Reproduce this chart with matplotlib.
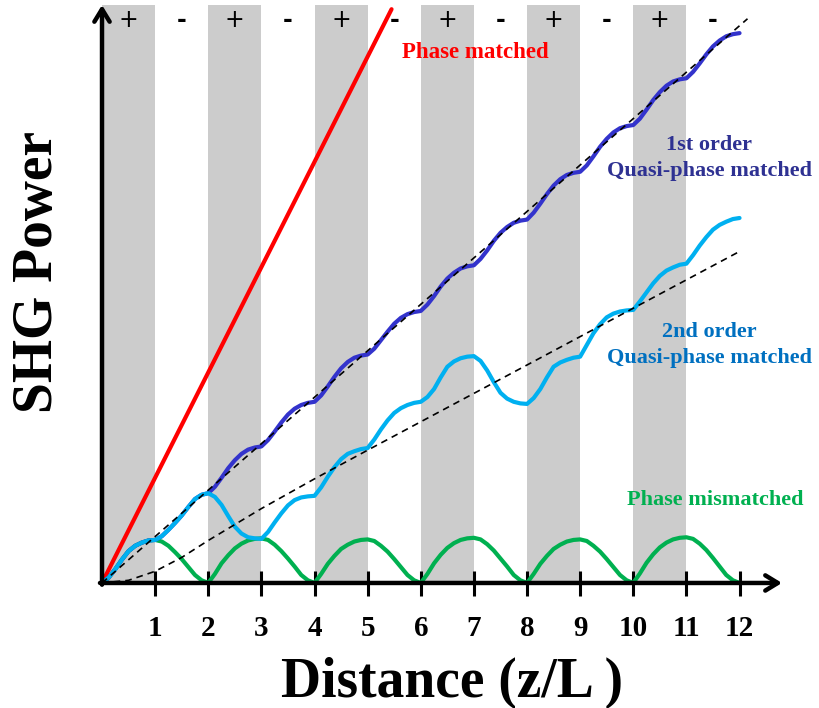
import matplotlib
matplotlib.use("Agg")
from matplotlib import pyplot as plt

# distance in units of coherence length, read every 1/8
x = [i * 0.125 for i in range(97)]

phase_matched_x = [0, 5.45]
phase_matched_y = [0, 10.8]

# 1st order quasi-phase matched
qpm1 = [0, 0.10, 0.26, 0.44, 0.60, 0.70, 0.76, 0.80,
        0.81, 0.88, 1.00, 1.13, 1.27, 1.43, 1.58, 1.66,
        1.69, 1.81, 1.98, 2.16, 2.31, 2.43, 2.51, 2.55,
        2.57, 2.69, 2.85, 3.02, 3.17, 3.28, 3.35, 3.39,
        3.41, 3.53, 3.70, 3.88, 4.04, 4.16, 4.24, 4.28,
        4.30, 4.41, 4.57, 4.73, 4.88, 4.99, 5.06, 5.10,
        5.12, 5.24, 5.40, 5.58, 5.73, 5.84, 5.92, 5.96,
        5.98, 6.10, 6.26, 6.44, 6.59, 6.70, 6.78, 6.82,
        6.84, 6.97, 7.14, 7.32, 7.48, 7.60, 7.68, 7.72,
        7.74, 7.86, 8.03, 8.21, 8.36, 8.48, 8.56, 8.60,
        8.62, 8.74, 8.91, 9.09, 9.24, 9.36, 9.44, 9.48,
        9.50, 9.62, 9.78, 9.95, 10.10, 10.21, 10.29, 10.33,
        10.35]

# 2nd order quasi-phase matched
qpm2 = [0, 0.10, 0.26, 0.44, 0.60, 0.70, 0.76, 0.80,
        0.81, 0.88, 1.00, 1.13, 1.27, 1.43, 1.58, 1.66,
        1.69, 1.62, 1.47, 1.26, 1.06, 0.93, 0.86, 0.84,
        0.83, 0.96, 1.14, 1.31, 1.46, 1.56, 1.61, 1.63,
        1.64, 1.80, 2.00, 2.18, 2.33, 2.43, 2.48, 2.52,
        2.54, 2.70, 2.89, 3.06, 3.20, 3.29, 3.35, 3.39,
        3.41, 3.50, 3.65, 3.87, 4.07, 4.17, 4.23, 4.26,
        4.27, 4.18, 4.00, 3.78, 3.58, 3.47, 3.41, 3.38,
        3.37, 3.48, 3.65, 3.87, 4.07, 4.15, 4.20, 4.24,
        4.26, 4.48, 4.70, 4.87, 5.00, 5.07, 5.11, 5.13,
        5.14, 5.30, 5.47, 5.64, 5.78, 5.88, 5.94, 5.99,
        6.01, 6.17, 6.35, 6.51, 6.65, 6.74, 6.80, 6.85,
        6.87]

# phase mismatched
mismatch = [0, 0.10, 0.26, 0.44, 0.60, 0.70, 0.76, 0.80,
            0.81, 0.78, 0.70, 0.58, 0.45, 0.30, 0.15, 0.05,
            0, 0.17, 0.37, 0.52, 0.65, 0.74, 0.80, 0.83,
            0.84, 0.81, 0.72, 0.60, 0.46, 0.31, 0.15, 0.05,
            0, 0.17, 0.36, 0.51, 0.64, 0.72, 0.78, 0.81,
            0.82, 0.79, 0.70, 0.59, 0.45, 0.30, 0.15, 0.05,
            0, 0.17, 0.37, 0.53, 0.66, 0.75, 0.81, 0.84,
            0.85, 0.82, 0.73, 0.61, 0.46, 0.31, 0.15, 0.05,
            0, 0.17, 0.36, 0.51, 0.64, 0.72, 0.78, 0.81,
            0.82, 0.79, 0.70, 0.59, 0.45, 0.30, 0.15, 0.05,
            0, 0.18, 0.38, 0.54, 0.67, 0.76, 0.82, 0.85,
            0.86, 0.83, 0.74, 0.62, 0.47, 0.31, 0.15, 0.05,
            0]

trend1_x = [0, 12.15]
trend1_y = [0, 10.62]
trend2_x = [0, 0.5, 1, 1.5, 2, 3, 4, 5, 12]
trend2_y = [0, 0.05, 0.22, 0.48, 0.80, 1.40, 1.96, 2.50, 6.24]

band_starts = [0, 2, 4, 6, 8, 10]
sign_x = [0.5, 1.5, 2.5, 3.5, 4.5, 5.5, 6.5, 7.5, 8.5, 9.5, 10.5, 11.5]
signs = ['+', '-', '+', '-', '+', '-', '+', '-', '+', '-', '+', '-']
ticks = list(range(1, 13))

serif = 'Liberation Serif'

fig = plt.figure(figsize=(8.2, 7.08), dpi=100)
ax = fig.add_axes([0.1244, 0.1766, 0.8293, 0.8164])
ax.set_xlim(0, 12.8)
ax.set_ylim(0, 10.88)

for s in band_starts:
    ax.axvspan(s, s + 1, color='#cccccc', lw=0, zorder=0)

line_kw = dict(lw=3, solid_joinstyle='round', solid_capstyle='round')
ax.plot(phase_matched_x, phase_matched_y, color='#ff0000', zorder=2, **line_kw)
ax.plot(x, mismatch, color='#00b050', zorder=3, **line_kw)
ax.plot(x, qpm1, color='#3333cc', zorder=4, **line_kw)
ax.plot(x, qpm2, color='#00b0f0', zorder=5, **line_kw)
ax.plot(trend1_x, trend1_y, color='black', lw=1.2, ls=(0, (4, 3)), zorder=6)
ax.plot(trend2_x, trend2_y, color='black', lw=1.2, ls=(0, (4, 3)), zorder=6)

for sx, sg in zip(sign_x, signs):
    ax.text(sx, 10.6, sg, ha='center', va='center', fontsize=17,
            fontweight='normal' if sg == '+' else 'bold', family='DejaVu Sans')

ax.text(7.02, 9.98, 'Phase matched', color='#ff0000', ha='center', va='center',
        fontsize=16.5, fontweight='bold', family=serif)
ax.text(11.43, 8.0, '1st order\nQuasi-phase matched', color='#2e3192', ha='center',
        va='center', fontsize=16, fontweight='bold', family=serif, linespacing=1.4)
ax.text(11.43, 4.48, '2nd order\nQuasi-phase matched', color='#0070c0', ha='center',
        va='center', fontsize=16, fontweight='bold', family=serif, linespacing=1.4)
ax.text(11.55, 1.56, 'Phase mismatched', color='#00b050', ha='center', va='center',
        fontsize=16, fontweight='bold', family=serif)

for sp in ax.spines.values():
    sp.set_visible(False)
ax.set_xticks(ticks)
ax.set_xticklabels([str(t) for t in ticks], fontsize=21, fontweight='bold', family=serif)
ax.tick_params(axis='x', direction='inout', length=18, width=2.2, pad=14)
ax.set_yticks([])

arrow = dict(arrowstyle='->,head_length=0.9,head_width=0.55', lw=3.2, color='black',
             shrinkA=0, shrinkB=0)
ax.annotate('', xy=(1.0, 0), xytext=(-0.003, 0), xycoords='axes fraction',
            arrowprops=arrow, zorder=10, annotation_clip=False)
ax.annotate('', xy=(0, 1.0), xytext=(0, -0.003), xycoords='axes fraction',
            arrowprops=arrow, zorder=10, annotation_clip=False)

fig.text(0.551, 0.036, 'Distance (z/L )', ha='center', va='center', fontsize=40,
         fontweight='bold', family=serif)
fig.text(0.046, 0.616, 'SHG Power', ha='center', va='center', fontsize=40,
         fontweight='bold', family=serif, rotation=90)

fig.savefig('out.png', dpi=100)
